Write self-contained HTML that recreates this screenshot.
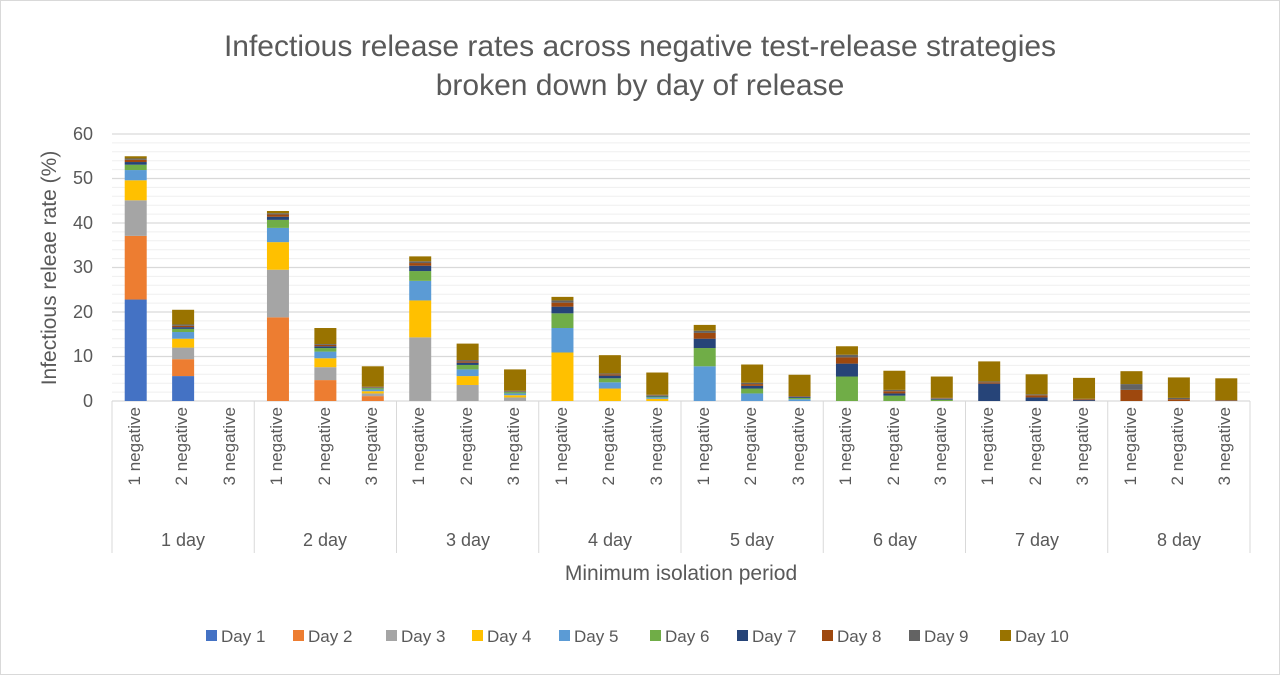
<!DOCTYPE html><html><head><meta charset="utf-8"><style>
body{margin:0;background:#fff}
svg text{font-family:"Liberation Sans",sans-serif;fill:#595959}
</style></head><body>
<svg id="s" width="1280" height="675" xmlns="http://www.w3.org/2000/svg">
<rect x="0.5" y="0.5" width="1279" height="674" fill="#fff" stroke="#d9d9d9"/>
<g id="grid"></g>
<g id="bars"></g>
<text x="640" y="56" font-size="30" text-anchor="middle">Infectious release rates across negative test-release strategies</text>
<text x="640" y="95" font-size="30" text-anchor="middle">broken down by day of release</text>
<text transform="translate(56,268) rotate(-90)" font-size="21" text-anchor="middle">Infectious releae rate (%)</text>
<g font-size="18" text-anchor="end">
<text x="93" y="407">0</text><text x="93" y="362">10</text><text x="93" y="318">20</text><text x="93" y="273">30</text><text x="93" y="229">40</text><text x="93" y="184">50</text><text x="93" y="140">60</text>
</g>
<g font-size="18" text-anchor="middle">
<text x="183" y="546">1 day</text><text x="325" y="546">2 day</text><text x="468" y="546">3 day</text><text x="610" y="546">4 day</text><text x="752" y="546">5 day</text><text x="895" y="546">6 day</text><text x="1037" y="546">7 day</text><text x="1179" y="546">8 day</text>
</g>
<text x="681" y="580" font-size="21" text-anchor="middle">Minimum isolation period</text>
<g font-size="17">
<rect x="206" y="630" width="11" height="11" fill="#4472C4"/><text x="221" y="642">Day 1</text>
<rect x="293" y="630" width="11" height="11" fill="#ED7D31"/><text x="308" y="642">Day 2</text>
<rect x="386" y="630" width="11" height="11" fill="#A5A5A5"/><text x="401" y="642">Day 3</text>
<rect x="472" y="630" width="11" height="11" fill="#FFC000"/><text x="487" y="642">Day 4</text>
<rect x="559" y="630" width="11" height="11" fill="#5B9BD5"/><text x="574" y="642">Day 5</text>
<rect x="650" y="630" width="11" height="11" fill="#70AD47"/><text x="665" y="642">Day 6</text>
<rect x="737" y="630" width="11" height="11" fill="#264478"/><text x="752" y="642">Day 7</text>
<rect x="822" y="630" width="11" height="11" fill="#9E480E"/><text x="837" y="642">Day 8</text>
<rect x="909" y="630" width="11" height="11" fill="#636363"/><text x="924" y="642">Day 9</text>
<rect x="1000" y="630" width="11" height="11" fill="#997300"/><text x="1015" y="642">Day 10</text>
</g>
<g font-size="17" fill="#595959">
<text transform="translate(140,407) rotate(-90)" text-anchor="end">1 negative</text>
<text transform="translate(187,407) rotate(-90)" text-anchor="end">2 negative</text>
<text transform="translate(235,407) rotate(-90)" text-anchor="end">3 negative</text>
<text transform="translate(282,407) rotate(-90)" text-anchor="end">1 negative</text>
<text transform="translate(330,407) rotate(-90)" text-anchor="end">2 negative</text>
<text transform="translate(377,407) rotate(-90)" text-anchor="end">3 negative</text>
<text transform="translate(424,407) rotate(-90)" text-anchor="end">1 negative</text>
<text transform="translate(472,407) rotate(-90)" text-anchor="end">2 negative</text>
<text transform="translate(519,407) rotate(-90)" text-anchor="end">3 negative</text>
<text transform="translate(567,407) rotate(-90)" text-anchor="end">1 negative</text>
<text transform="translate(614,407) rotate(-90)" text-anchor="end">2 negative</text>
<text transform="translate(662,407) rotate(-90)" text-anchor="end">3 negative</text>
<text transform="translate(709,407) rotate(-90)" text-anchor="end">1 negative</text>
<text transform="translate(756,407) rotate(-90)" text-anchor="end">2 negative</text>
<text transform="translate(804,407) rotate(-90)" text-anchor="end">3 negative</text>
<text transform="translate(851,407) rotate(-90)" text-anchor="end">1 negative</text>
<text transform="translate(899,407) rotate(-90)" text-anchor="end">2 negative</text>
<text transform="translate(946,407) rotate(-90)" text-anchor="end">3 negative</text>
<text transform="translate(993,407) rotate(-90)" text-anchor="end">1 negative</text>
<text transform="translate(1041,407) rotate(-90)" text-anchor="end">2 negative</text>
<text transform="translate(1088,407) rotate(-90)" text-anchor="end">3 negative</text>
<text transform="translate(1136,407) rotate(-90)" text-anchor="end">1 negative</text>
<text transform="translate(1183,407) rotate(-90)" text-anchor="end">2 negative</text>
<text transform="translate(1230,407) rotate(-90)" text-anchor="end">3 negative</text>
</g>
</svg>
<script>
var NS="http://www.w3.org/2000/svg";
function el(p,t,a){var e=document.createElementNS(NS,t);for(var k in a)e.setAttribute(k,a[k]);p.appendChild(e);return e;}
var g=document.getElementById("grid"),b=document.getElementById("bars");
var X0=112,X1=1250,Y0=401,S=4.45;
for(var v=2;v<=60;v+=2){var y=Y0-v*S;el(g,"line",{x1:X0,x2:X1,y1:y,y2:y,stroke:v%10?"#efefef":"#d9d9d9","stroke-width":v%10?1:1.3});}
el(g,"line",{x1:X0,x2:X1,y1:Y0,y2:Y0,stroke:"#d9d9d9","stroke-width":1.3});
var gw=(X1-X0)/8;
for(var i=0;i<=8;i++){var x=X0+i*gw;el(g,"line",{x1:x,x2:x,y1:Y0,y2:553,stroke:"#d9d9d9"});}
var C=["#4472C4","#ED7D31","#A5A5A5","#FFC000","#5B9BD5","#70AD47","#264478","#9E480E","#636363","#997300"];
var D=[
[22.8,14.3,8,4.5,2.3,1.2,0.6,0.5,0.3,0.5],
[5.6,3.8,2.6,2,1.5,0.7,0.4,0.3,0.3,3.3],
[0,0,0,0,0,0,0,0,0,0],
[0,18.8,10.7,6.2,3.2,1.8,0.7,0.5,0.3,0.5],
[0,4.7,2.9,2,1.5,0.8,0.4,0.3,0.2,3.6],
[0,1.1,0.6,0.5,0.4,0.3,0.1,0.1,0.1,4.6],
[0,0,14.3,8.3,4.4,2.2,1.2,0.6,0.4,1.1],
[0,0,3.6,2,1.5,1,0.5,0.3,0.3,3.7],
[0,0,0.8,0.5,0.4,0.3,0.1,0.1,0.1,4.8],
[0,0,0,10.9,5.5,3.3,1.5,0.9,0.5,0.8],
[0,0,0,2.8,1.4,0.9,0.6,0.3,0.2,4.1],
[0,0,0,0.5,0.3,0.2,0.2,0.1,0.1,5],
[0,0,0,0,7.8,4.1,2.1,1.3,0.5,1.3],
[0,0,0,0,1.7,1.1,0.6,0.4,0.3,4.1],
[0,0,0,0,0.4,0.3,0.2,0.1,0.1,4.8],
[0,0,0,0,0,5.5,2.9,1.4,0.6,1.9],
[0,0,0,0,0,1.2,0.5,0.5,0.3,4.3],
[0,0,0,0,0,0.3,0.2,0.1,0.1,4.8],
[0,0,0,0,0,0,3.9,0.3,0.2,4.5],
[0,0,0,0,0,0,0.8,0.5,0.2,4.5],
[0,0,0,0,0,0,0.2,0.2,0.1,4.7],
[0,0,0,0,0,0,0,2.5,1.3,2.9],
[0,0,0,0,0,0,0,0.4,0.3,4.6],
[0,0,0,0,0,0,0,0.1,0.1,4.9]];
var sw=gw/3;
D.forEach(function(s,j){var cx=X0+j*sw+sw/2,y=Y0;s.forEach(function(v,k){if(!v)return;var h=v*S;y-=h;el(b,"rect",{x:cx-11,y:y,width:22,height:h,fill:C[k]});});});
</script>
</body></html>
